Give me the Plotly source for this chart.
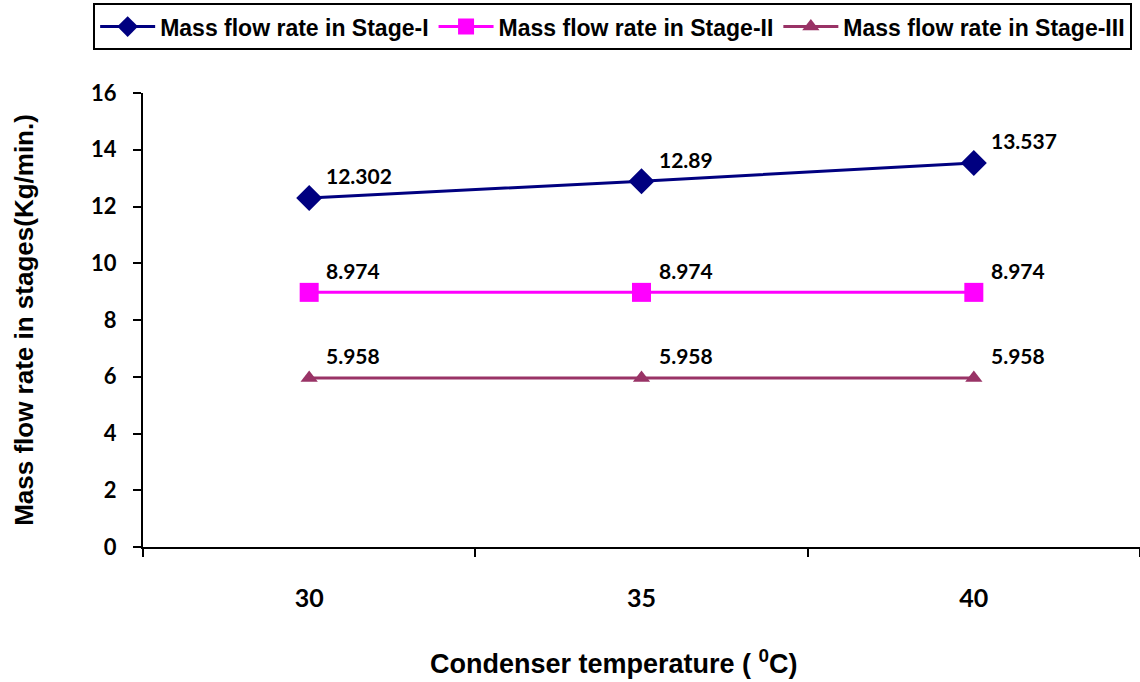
import plotly.graph_objects as go

# Condenser temperatures (°C) and mass flow rates (kg/min) per stage
temperatures = [30, 35, 40]
stage1 = [12.302, 12.89, 13.537]
stage2 = [8.974, 8.974, 8.974]
stage3 = [5.958, 5.958, 5.958]

series = [
    ("Mass flow rate in Stage-I", stage1, "#000080", "diamond", 20),
    ("Mass flow rate in Stage-II", stage2, "#FF00FF", "square", 19),
    ("Mass flow rate in Stage-III", stage3, "#993366", "triangle-up", 15),
]

label_font = dict(family="Lato", size=21, color="black", weight="bold")
title_font = dict(family="Liberation Sans", size=27, color="black", weight="bold")

fig = go.Figure()
annotations = []
for name, values, color, symbol, msize in series:
    fig.add_trace(go.Scatter(
        x=temperatures, y=values, name=name, mode="lines+markers",
        line=dict(color=color, width=3),
        marker=dict(symbol=symbol, size=msize, color=color),
    ))
    for t, v in zip(temperatures, values):
        annotations.append(dict(
            x=t, y=v, text=f"{v:g}", showarrow=False,
            xanchor="left", yanchor="middle", xshift=15, yshift=22,
            font=label_font,
        ))

# x-axis title, placed slightly left of the plot-area centre
annotations.append(dict(
    x=0.5, y=0, xref="paper", yref="paper", xshift=-28, yshift=-115,
    text="Condenser temperature ( <sup>0</sup>C)", showarrow=False,
    xanchor="center", yanchor="middle", font=title_font,
))

fig.update_layout(
    width=1140, height=682,
    margin=dict(l=143, r=0, t=93, b=135),
    paper_bgcolor="white", plot_bgcolor="white",
    showlegend=True,
    legend=dict(
        orientation="h", x=-0.05, y=1.198, xanchor="left", yanchor="top",
        bordercolor="black", borderwidth=2, bgcolor="white",
        font=dict(family="Liberation Sans", size=23, color="black", weight="bold"),
        itemwidth=55, tracegroupgap=0,
    ),
    annotations=annotations,
    xaxis=dict(
        range=[27.5, 42.5], tickvals=temperatures,
        ticktext=[str(t) for t in temperatures], ticks="",
        showline=True, linecolor="black", linewidth=2,
        showgrid=False, zeroline=False,
        tickfont=dict(family="Lato", size=25, color="black", weight="bold"),
        ticklabelstandoff=28,
        minor=dict(tickvals=[27.5, 32.5, 37.5, 42.5], ticks="outside",
                   ticklen=8, tickwidth=2, tickcolor="black", showgrid=False),
    ),
    yaxis=dict(
        range=[0, 16], dtick=2, ticks="outside", ticklen=8, tickwidth=2,
        tickcolor="black", showline=True, linecolor="black", linewidth=2,
        showgrid=False, zeroline=False,
        tickfont=dict(family="Lato", size=22, color="black", weight="bold"),
        ticklabelstandoff=12,
        title=dict(text="Mass flow rate in stages(Kg/min.)", standoff=50,
                   font=dict(family="Liberation Sans", size=26, color="black", weight="bold")),
    ),
)

fig.write_html("out.html")
